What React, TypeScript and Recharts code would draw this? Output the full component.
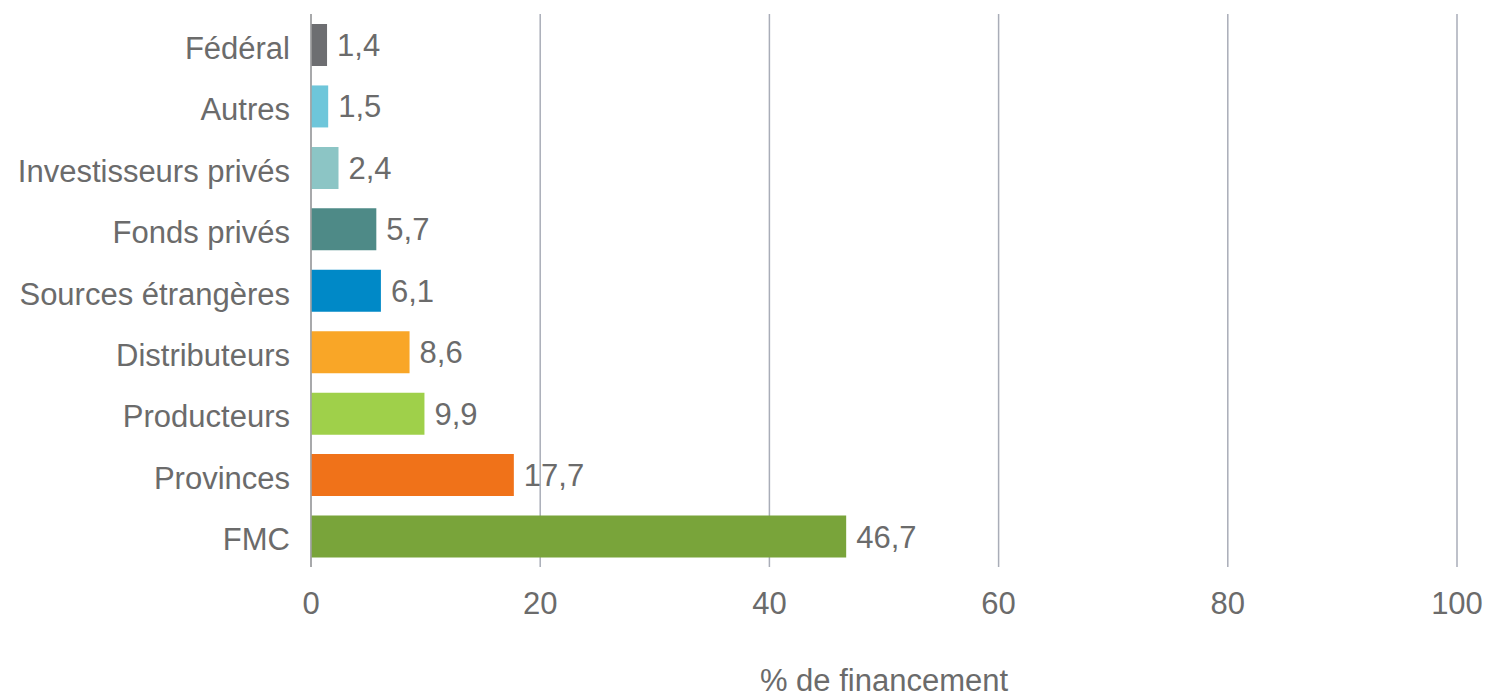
import { BarChart, Bar, XAxis, YAxis, CartesianGrid, Cell, LabelList } from "recharts";

// Funding sources, share of total financing (%), shown as horizontal bars.

const CATEGORIES = [
  "Fédéral",
  "Autres",
  "Investisseurs privés",
  "Fonds privés",
  "Sources étrangères",
  "Distributeurs",
  "Producteurs",
  "Provinces",
  "FMC",
];

const VALUES = [1.4, 1.5, 2.4, 5.7, 6.1, 8.6, 9.9, 17.7, 46.7];

const COLORS = [
  "#6d6e71",
  "#6ec6da",
  "#8cc5c5",
  "#4e8a87",
  "#0089c7",
  "#f9a627",
  "#9fd04a",
  "#f07219",
  "#79a43a",
];

const X_TICKS = [0, 20, 40, 60, 80, 100];

const TEXT = "#6b6b6b";
const FONT = "'Liberation Sans', Arial, sans-serif";

const data = CATEGORIES.map((name, i) => ({ name, value: VALUES[i] }));

export default function App() {
  return (
    <div style={{ position: "absolute", left: 0, top: 0, fontFamily: FONT }}>
      <BarChart
        width={1488}
        height={698}
        data={data}
        layout="vertical"
        margin={{ top: 14, right: 31, left: 0, bottom: 0 }}
      >
        <CartesianGrid horizontal={false} vertical stroke="#a9adb8" strokeWidth={1.5} />
        <XAxis
          type="number"
          domain={[0, 100]}
          ticks={X_TICKS}
          height={131}
          axisLine={false}
          tickLine={false}
          tickSize={0}
          tickMargin={25}
          tick={{ fontSize: 31, fill: TEXT, fontFamily: FONT }}
          label={{
            value: "% de financement",
            position: "insideBottom",
            offset: 7,
            fontSize: 31,
            fill: TEXT,
            fontFamily: FONT,
          }}
        />
        <YAxis
          type="category"
          dataKey="name"
          width={311}
          axisLine={{ stroke: "#a0a0a0", strokeWidth: 1.5 }}
          tickLine={false}
          tickSize={0}
          tickMargin={21}
          interval={0}
          tick={{ fontSize: 31, fill: TEXT, fontFamily: FONT, dy: 3 }}
        />
        <Bar dataKey="value" barSize={42} isAnimationActive={false}>
          {data.map((d, i) => (
            <Cell key={d.name} fill={COLORS[i]} />
          ))}
          <LabelList
            dataKey="value"
            position="right"
            offset={10}
            formatter={(v: number) => v.toFixed(1).replace(".", ",")}
            style={{ fontSize: 31, fill: TEXT, fontFamily: FONT }}
          />
        </Bar>
      </BarChart>
    </div>
  );
}
